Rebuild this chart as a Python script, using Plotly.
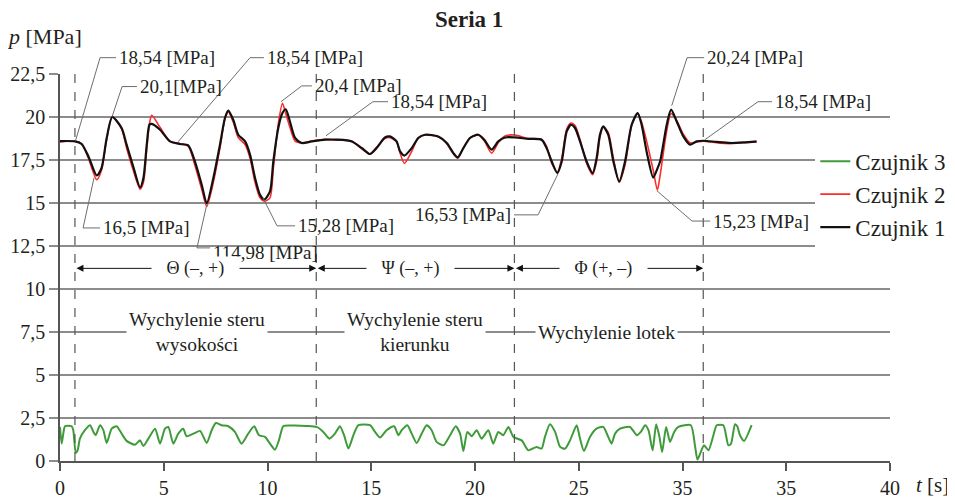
import plotly.graph_objects as go

# ---------------- data ----------------
t_main = [0.00, 0.72, 1.04, 1.37, 1.77, 2.00, 2.25, 2.52, 2.97, 3.21, 3.53, 3.86, 4.02, 4.18, 4.31, 4.42,
          4.82, 5.30, 5.78, 6.18, 6.50, 6.83, 7.07, 7.39, 7.71, 7.95, 8.11, 8.35, 8.59, 8.92, 9.16, 9.40,
          9.64, 9.85, 10.12, 10.28, 10.52, 10.72, 10.88, 11.08, 11.33, 11.65, 12.13, 12.77, 13.41, 14.06,
          14.54, 14.94, 15.26, 15.66, 15.90, 16.22, 16.39, 16.60, 16.95, 17.27, 17.59, 18.23, 18.64, 18.96,
          19.17, 19.44, 19.76, 20.16, 20.45, 20.80, 21.12, 21.45, 21.93, 22.57, 23.21, 23.45, 23.70, 23.97,
          24.18, 24.42, 24.63, 24.82, 25.06, 25.38, 25.67, 25.86, 26.02, 26.18, 26.42, 26.67, 26.95, 27.23,
          27.55, 27.84, 28.03, 28.27, 28.59, 28.79, 28.92, 29.24, 29.45, 29.72, 30.04, 30.36, 30.68, 31.00,
          31.64, 32.29, 32.93, 33.57]

czujnik1 = [18.60, 18.58, 18.43, 17.71, 16.60, 17.03, 18.78, 20.00, 19.36, 18.39, 17.12, 15.90, 16.45, 18.39, 19.55, 19.60,
            19.26, 18.58, 18.43, 18.35, 17.42, 16.06, 14.98, 16.45, 18.39, 19.94, 20.37, 19.84, 18.97, 18.58, 17.80, 16.45,
            15.47, 15.20, 15.67, 17.41, 19.36, 20.23, 20.45, 19.74, 18.78, 18.49, 18.58, 18.68, 18.68, 18.58,
            18.20, 17.85, 18.20, 18.81, 18.87, 18.58, 18.00, 17.76, 18.19, 18.78, 18.97, 18.87, 18.49, 17.90,
            17.65, 18.19, 18.78, 18.97, 18.68, 18.10, 18.58, 18.81, 18.81, 18.73, 18.68, 18.19, 17.41, 16.74,
            17.41, 19.16, 19.55, 19.36, 18.58, 17.41, 16.74, 17.61, 18.97, 19.45, 18.97, 17.41, 16.25, 17.41,
            19.55, 20.23, 19.55, 18.00, 16.48, 17.00, 17.41, 19.55, 20.43, 19.74, 18.87, 18.39, 18.58, 18.62,
            18.55, 18.49, 18.52, 18.58]

czujnik2 = [18.55, 18.60, 18.45, 17.60, 16.35, 16.90, 18.70, 20.00, 19.30, 18.20, 16.90, 15.80, 16.20, 18.10, 19.60, 20.10,
            19.40, 18.60, 18.45, 18.30, 17.20, 15.80, 14.80, 16.20, 18.20, 19.90, 20.30, 19.70, 18.80, 18.40, 17.60, 16.20,
            15.30, 15.10, 15.30, 17.00, 19.60, 20.80, 20.20, 19.40, 18.60, 18.50, 18.60, 18.70, 18.65, 18.60,
            18.15, 17.85, 18.25, 18.75, 18.80, 18.55, 17.90, 17.30, 18.00, 18.80, 18.95, 18.85, 18.45, 17.85,
            17.60, 18.20, 18.80, 18.95, 18.60, 17.90, 18.50, 18.90, 18.95, 18.75, 18.70, 18.30, 17.30, 16.80,
            17.60, 19.30, 19.65, 19.50, 18.70, 17.30, 16.65, 17.40, 18.80, 19.40, 19.10, 17.60, 16.20, 17.20,
            19.50, 20.20, 19.70, 18.60, 16.90, 15.75, 16.60, 19.20, 20.20, 19.80, 19.00, 18.50, 18.55, 18.60,
            18.50, 18.45, 18.50, 18.55]

t_green = [0.00, 0.08, 0.16, 0.24, 0.56, 0.64, 0.76, 0.85, 0.96, 1.20, 1.45, 1.61, 1.72, 1.93, 2.09, 2.25,
           2.49, 2.73, 2.97, 3.21, 3.61, 3.86, 4.02, 4.26, 4.58, 4.82, 5.06, 5.22, 5.46, 5.70, 5.94, 6.10,
           6.43, 6.75, 7.07, 7.31, 7.51, 7.79, 8.11, 8.43, 8.75, 9.07, 9.36, 9.59, 9.88, 10.12, 10.36, 10.55,
           10.76, 11.08, 11.89, 12.37, 12.69, 12.98, 13.25, 13.49, 13.69, 13.90, 14.14, 14.38, 14.94, 15.18,
           15.42, 15.74, 16.10, 16.31, 16.47, 16.74, 16.95, 17.19, 17.43, 17.67, 17.91, 18.15, 18.48, 18.80,
           19.07, 19.28, 19.44, 19.63, 19.84, 20.08, 20.32, 20.64, 20.88, 21.12, 21.36, 21.61, 21.85, 22.25,
           22.57, 22.97, 23.21, 23.37, 23.61, 23.86, 24.10, 24.34, 24.58, 24.90, 25.06, 25.25, 25.54, 25.86,
           26.18, 26.42, 26.58, 26.75, 26.99, 27.47, 27.80, 27.99, 28.20, 28.36, 28.56, 28.73, 28.89, 29.02,
           29.21, 29.40, 29.60, 29.80, 30.40, 30.61, 30.72, 30.88, 31.04, 31.25, 31.49, 31.65, 31.97, 32.21,
           32.34, 32.53, 32.64, 32.77, 32.97, 33.33]

czujnik3 = [1.98, 1.01, 1.59, 2.02, 2.02, 1.79, 0.47, 0.62, 1.30, 1.79, 2.08, 1.69, 1.50, 2.08, 1.79, 1.05,
            1.88, 2.02, 1.59, 1.17, 0.95, 1.20, 0.87, 1.30, 1.88, 1.01, 1.88, 1.98, 1.01, 1.59, 1.88, 1.44,
            1.59, 1.75, 1.05, 1.79, 2.21, 2.08, 2.02, 1.69, 1.01, 1.59, 2.02, 1.50, 1.40, 1.01, 0.66, 1.20,
            2.02, 2.06, 2.04, 1.98, 1.69, 1.30, 1.59, 2.02, 1.50, 0.72, 1.50, 2.08, 2.08, 1.69,
            1.36, 1.79, 2.02, 1.50, 1.79, 2.08, 1.59, 1.05, 1.59, 2.08, 1.79, 1.11, 0.91, 1.50,
            2.02, 1.59, 0.58, 1.69, 1.44, 1.79, 1.30, 1.79, 1.01, 1.69, 1.50, 1.98, 1.40, 1.20,
            0.62, 0.82, 0.72, 1.40, 2.14, 1.69, 0.82, 0.72, 1.20, 2.08, 1.30, 0.58, 1.40, 1.88,
            1.98, 1.40, 1.01, 1.59, 1.88, 1.98, 1.50, 1.69, 2.08, 1.79, 0.62, 2.14, 1.40, 0.52,
            1.98, 1.11, 1.69, 1.98, 2.08, 0.82, 0.08, 0.52, 0.91, 0.62, 1.50, 2.08, 2.08, 0.91,
            1.01, 2.14, 2.02, 1.50, 1.17, 2.08]

series_names = ["Czujnik 3", "Czujnik 2", "Czujnik 1"]

y_ticks = [0, 2.5, 5, 7.5, 10, 12.5, 15, 17.5, 20, 22.5]
y_ticklabels = ["0", "2,5", "5", "7,5", "10", "12,5", "15", "17,5", "20", "22,5"]
x_ticks = [0, 5, 10, 15, 20, 25, 30, 35, 40]
x_ticklabels = ["0", "5", "10", "15", "20", "25", "35", "35", "40"]

phase_bounds = [0.72, 12.35, 21.9, 31.0]
phase_labels = ["Θ (–, +)", "Ψ (–, +)", "Φ (+, –)"]
phase_label_x = [6.55, 16.9, 26.2]
phase_arrow_y = 11.2

section_texts = ["Wychylenie steru<br>wysokości", "Wychylenie steru<br>kierunku", "Wychylenie lotek"]
section_x = [6.6, 17.13, 26.35]
section_y = 7.5

# callouts: text, curve point (x, y), elbow (x, y), end of horizontal segment x, text side
callout_texts = ["18,54 [MPa]", "20,1[MPa]", "18,54 [MPa]", "20,4 [MPa]", "18,54 [MPa]", "16,5 [MPa]",
                 "114,98 [MPa]", "15,28 [MPa]", "16,53 [MPa]", "20,24 [MPa]", "18,54 [MPa]", "15,23 [MPa]"]
callout_pt_x = [0.75, 2.51, 5.69, 10.65, 12.82, 1.64, 7.07, 9.78, 24.00, 29.48, 31.08, 28.77]
callout_pt_y = [18.62, 20.02, 18.56, 20.89, 18.91, 16.46, 14.90, 15.30, 16.70, 20.66, 18.68, 15.71]
callout_elb_x = [1.93, 2.99, 9.16, 11.65, 15.08, 1.11, 6.60, 10.46, 23.04, 30.22, 33.64, 30.46]
callout_elb_y = [23.45, 21.77, 23.45, 21.81, 20.89, 13.55, 12.39, 13.67, 14.31, 23.45, 20.89, 13.95]
callout_end_x = [2.70, 3.71, 9.83, 12.14, 15.81, 1.93, 7.23, 11.33, 21.88, 31.04, 34.31, 31.33]
callout_side = ["left"] * 8 + ["right"] + ["left"] * 3
callout_text_shift = [0, 0, 0, 0, 0, 0, -5, 0, 0, 0, 0, 0]

# ---------------- figure ----------------
X0, X1 = 0, 40
Y0, Y1 = 0, 22.5
FONT = "Liberation Serif"
TXT = "#231f20"
GRID = "#8c8c8c"
FIG_W, FIG_H = 947, 491   # page body adds an 8px offset


def xp(v):
    return (v - X0) / (X1 - X0)


def yp(v):
    return (v - Y0) / (Y1 - Y0)


fig = go.Figure()
fig.add_trace(go.Scatter(x=t_green, y=czujnik3, name=series_names[0], mode="lines",
                         line=dict(color="#3f9b3a", width=2, shape="spline", smoothing=0.6)))
fig.add_trace(go.Scatter(x=t_main, y=czujnik2, name=series_names[1], mode="lines",
                         line=dict(color="#ff2a2a", width=1.6, shape="spline", smoothing=0.7)))
fig.add_trace(go.Scatter(x=t_main, y=czujnik1, name=series_names[2], mode="lines",
                         line=dict(color="#111111", width=2.2, shape="spline", smoothing=0.7)))

shapes = []
for b in phase_bounds:
    shapes.append(dict(type="line", xref="x", yref="y", x0=b, x1=b, y0=Y0, y1=Y1,
                       line=dict(color="#555555", width=1.2, dash="dash"), layer="above"))

for i in range(len(callout_texts)):
    path = "M {:.4f},{:.4f} L {:.4f},{:.4f} L {:.4f},{:.4f}".format(
        xp(callout_pt_x[i]), yp(callout_pt_y[i]),
        xp(callout_elb_x[i]), yp(callout_elb_y[i]),
        xp(callout_end_x[i]), yp(callout_elb_y[i]))
    shapes.append(dict(type="path", xref="paper", yref="paper", path=path,
                       line=dict(color="#6e6e6e", width=1), layer="above"))

annotations = []
for i in range(len(callout_texts)):
    left = callout_side[i] == "left"
    annotations.append(dict(xref="paper", yref="paper", x=xp(callout_end_x[i]), y=yp(callout_elb_y[i]),
                            text=callout_texts[i], showarrow=False,
                            xanchor="left" if left else "right", yanchor="middle",
                            xshift=1 if left else -1, yshift=callout_text_shift[i],
                            font=dict(family=FONT, size=19, color=TXT)))

for i in range(len(phase_labels)):
    annotations.append(dict(xref="x", yref="y", x=phase_bounds[i + 1], y=phase_arrow_y,
                            ax=phase_bounds[i], ay=phase_arrow_y, axref="x", ayref="y",
                            text="", showarrow=True, arrowhead=2, arrowside="end+start",
                            arrowsize=1.4, arrowwidth=1, arrowcolor="#111111"))
for i in range(len(phase_labels)):
    annotations.append(dict(xref="x", yref="y", x=phase_label_x[i], y=phase_arrow_y,
                            text="\u00a0\u00a0\u00a0" + phase_labels[i] + "\u00a0\u00a0\u00a0",
                            showarrow=False, bgcolor="white", borderpad=1,
                            font=dict(family=FONT, size=18, color=TXT)))

for i in range(len(section_texts)):
    annotations.append(dict(xref="x", yref="y", x=section_x[i], y=section_y,
                            text=section_texts[i], showarrow=False, bgcolor="white", borderpad=2,
                            font=dict(family=FONT, size=19.5, color=TXT)))

annotations.append(dict(xref="paper", yref="paper", x=-0.066, y=1.098, xanchor="left", yanchor="middle",
                        text="<i>p</i> [MPa]", showarrow=False,
                        font=dict(family=FONT, size=22, color=TXT)))
annotations.append(dict(xref="paper", yref="paper", x=1.051, y=-0.062, xanchor="center", yanchor="middle",
                        text="<i>t</i> [s]", showarrow=False,
                        font=dict(family=FONT, size=21, color=TXT)))

fig.update_layout(
    width=FIG_W, height=FIG_H,
    margin=dict(l=52, r=65, t=66, b=38, autoexpand=False),
    paper_bgcolor="white", plot_bgcolor="white",
    font=dict(family=FONT, color=TXT),
    title=dict(text="<b>Seria 1</b>", x=0.493, xref="paper", xanchor="center",
               y=1 - 11 / FIG_H, yref="container", yanchor="middle",
               font=dict(family=FONT, size=23, color=TXT)),
    xaxis=dict(range=[X0, X1], showgrid=False, zeroline=False, showline=True, linecolor="#555555",
               linewidth=1.5, ticks="outside", ticklen=8, tickcolor="#555555", tickwidth=1.5,
               tickvals=x_ticks, ticktext=x_ticklabels,
               tickfont=dict(family=FONT, size=20, color=TXT)),
    yaxis=dict(range=[Y0, Y1], showgrid=True, gridcolor=GRID, gridwidth=1.5, zeroline=False,
               showline=True, linecolor="#555555", linewidth=1.5, ticks="outside", ticklen=9,
               tickcolor=GRID, tickwidth=1.5, tickvals=y_ticks, ticktext=y_ticklabels,
               tickfont=dict(family=FONT, size=20, color=TXT)),
    legend=dict(x=0.91, y=0.83, xanchor="left", yanchor="top", bgcolor="white",
                font=dict(family=FONT, size=23, color=TXT), tracegroupgap=0),
    showlegend=True,
    shapes=shapes,
    annotations=annotations,
)

fig.write_html("out.html")
